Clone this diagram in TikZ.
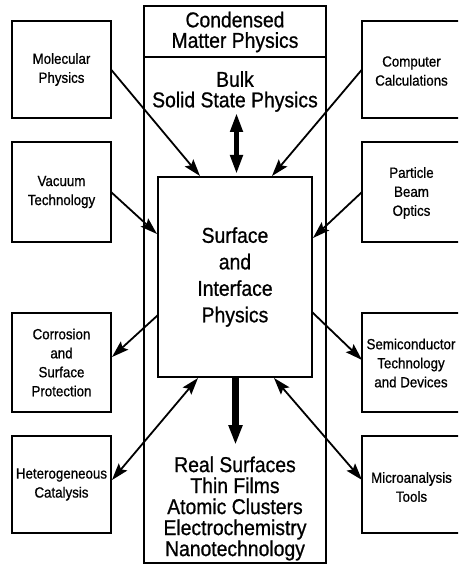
\documentclass[tikz,border=0pt]{standalone}
\usepackage{fontspec}
\setmainfont{Liberation Sans}[FakeStretch=0.9,FakeBold=0.8]
\usetikzlibrary{arrows.meta}
\begin{document}
\begin{tikzpicture}[x=1pt,y=-1pt,
  box/.style={draw, line width=1.5pt, inner sep=0pt, outer sep=0pt},
  sidebox/.style={box, minimum width=99pt, minimum height=97pt,
    font=\fontsize{14.8}{19}\selectfont, align=center},
  rightbox/.style={inner sep=0pt, outer sep=0pt, minimum width=110pt, minimum height=97pt},
  openedge/.style={line width=1.5pt},
  sidetext/.style={font=\fontsize{14.8}{19}\selectfont, align=center, inner sep=0pt},
  bigtext/.style={font=\fontsize{21.5}{20.5}\selectfont, align=center, inner sep=0pt},
  thinarrow/.style={line width=1.8pt, -{Stealth[length=17pt,width=11pt,inset=3pt]}},
  dblarrow/.style={line width=1.8pt, {Stealth[length=17pt,width=11pt,inset=3pt]}-{Stealth[length=17pt,width=11pt,inset=3pt]}},
  thickarrow/.style={line width=6.5pt, -{Triangle[length=20pt,width=13pt]}},
  bulkarrow/.style={line width=4.5pt, {Triangle[length=19pt,width=12pt]}-{Triangle[length=19pt,width=12pt]}}
]
\useasboundingbox (0,0) rectangle (458,564);
\clip (0,0) rectangle (458,564);

% central column
\node[box, minimum width=182pt, minimum height=557pt] (main) at (235,284.5) {};
\coordinate (dl) at (144,57);
\coordinate (dr) at (326,57);
\draw[line width=1.5pt] (dl) -- (dr);
\node[bigtext] (cmp) at (235,32) {Condensed\\Matter Physics};
\node[bigtext] (bulk) at (235,91.5) {Bulk\\Solid State Physics};
\node[box, minimum width=154pt, minimum height=200pt, align=center,
  font=\fontsize{21.5}{26.5}\selectfont] (sip) at (235,277) {Surface\\and\\Interface\\Physics};
\node[bigtext, font=\fontsize{21.5}{21}\selectfont] (real) at (235,508.5)
  {Real Surfaces\\Thin Films\\Atomic Clusters\\Electrochemistry\\Nanotechnology};

% left boxes
\node[sidebox] (mol) at (61.5,69.5) {Molecular\\Physics};
\node[sidebox, minimum height=100pt] (vac) at (61.5,192) {Vacuum\\Technology};
\node[sidebox, minimum height=99pt] (cor) at (61.5,362.5) {Corrosion\\and\\Surface\\Protection};
\node[sidebox] (het) at (61.5,484.5) {Heterogeneous\\Catalysis};

% right boxes (their right edges run off the picture)
\node[rightbox] (comp) at (417,69.5) {};
\node[rightbox, minimum height=100pt] (pbo) at (417,192) {};
\node[rightbox, minimum height=99pt] (semi) at (417,362.5) {};
\node[rightbox] (micro) at (417,484.5) {};
\foreach \b in {comp,pbo,semi,micro}
  \draw[openedge] (\b.north east) -- (\b.north west) -- (\b.south west) -- (\b.south east);
\node[sidetext] (compT) at (411.5,71) {Computer\\Calculations};
\node[sidetext] (pboT) at (411.5,193) {Particle\\Beam\\Optics};
\node[sidetext] (semiT) at (411,363) {Semiconductor\\Technology\\and Devices};
\node[sidetext] (microT) at (411.5,487) {Microanalysis\\Tools};

% arrow end points
\coordinate (molEnd) at (200,176);
\coordinate (compEnd) at (272,176);
\coordinate (vacEnd) at (157,234);
\coordinate (pboEnd) at (313,238);
\coordinate (corStart) at (158,315);
\coordinate (corEnd) at (112,357);
\coordinate (semiStart) at (312,312);
\coordinate (semiEnd) at (362,360);
\coordinate (hetEnd) at (112,480);
\coordinate (hetIn) at (198,378);
\coordinate (microEnd) at (362,480);
\coordinate (microIn) at (274,378);
\coordinate (bulkTop) at (236.5,113);
\coordinate (bulkBot) at (236.5,174);
\coordinate (downStart) at (235.5,377);
\coordinate (downEnd) at (235.5,445);

\draw[thinarrow] (mol.east) -- (molEnd);
\draw[thinarrow] (comp.west) -- (compEnd);
\draw[thinarrow] (vac.east) -- (vacEnd);
\draw[thinarrow] (pbo.west) -- (pboEnd);
\draw[thinarrow] (corStart) -- (corEnd);
\draw[thinarrow] (semiStart) -- (semiEnd);
\draw[dblarrow] (hetEnd) -- (hetIn);
\draw[dblarrow] (microEnd) -- (microIn);
\draw[bulkarrow] (bulkTop) -- (bulkBot);
\draw[thickarrow] (downStart) -- (downEnd);
\end{tikzpicture}
\end{document}
